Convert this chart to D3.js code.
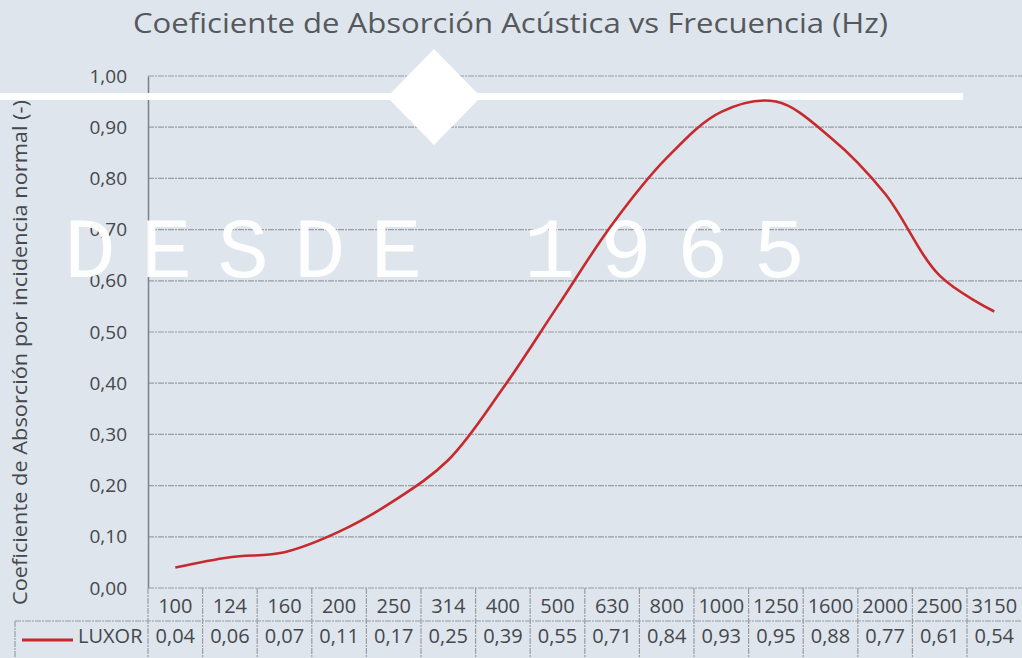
<!DOCTYPE html>
<html>
<head>
<meta charset="utf-8">
<style>
  html, body { margin: 0; padding: 0; background: #dfe5ec; }
  svg { display: block; }
</style>
</head>
<body>
<svg width="1022" height="658"></svg>
<script src="https://cdn.jsdelivr.net/npm/d3@7"></script>
<script>
  // datos
  var frequencies = ["100", "124", "160", "200", "250", "314", "400", "500", "630", "800", "1000", "1250", "1600", "2000", "2500", "3150"];
  var luxor = [0.04, 0.06, 0.07, 0.11, 0.17, 0.25, 0.39, 0.55, 0.71, 0.84, 0.93, 0.95, 0.88, 0.77, 0.61, 0.54];
  var yTicks = [0, 0.1, 0.2, 0.3, 0.4, 0.5, 0.6, 0.7, 0.8, 0.9, 1.0];
  var seriesName = "LUXOR";
  var title = "Coeficiente de Absorción Acústica vs Frecuencia (Hz)";
  var yLabel = "Coeficiente de Absorción por incidencia normal (-)";
  var watermark = "DESDE 1965";

  var svg = d3.select("svg"),
      width = +svg.attr("width"),
      height = +svg.attr("height");

  var margin = { left: 148, top: 76 };
  var plotBottom = 588;
  var font = "'Open Sans', Lato, sans-serif";
  var textColor = "#45484c";
  var gridColor = "#9a9ea4";
  var red = "#c62a2c";

  svg.append("rect").attr("width", width).attr("height", height).attr("fill", "#dfe5ec");

  var x = d3.scaleBand().domain(frequencies)
    .range([margin.left, margin.left + 54.6 * frequencies.length]);
  var y = d3.scaleLinear().domain([0, 1]).range([plotBottom, margin.top]);
  var fmt = function(d) { return d3.format(".2f")(d).replace(".", ","); };

  // título
  svg.append("text")
    .attr("x", 133).attr("y", 33)
    .attr("font-family", font)
    .attr("font-size", "28px")
    .attr("textLength", 755)
    .attr("lengthAdjust", "spacingAndGlyphs")
    .attr("fill", "#55595d")
    .text(title);

  // etiqueta eje y
  svg.append("text")
    .attr("transform", "translate(27,605) rotate(-90)")
    .attr("font-family", font)
    .attr("font-size", "19.5px")
    .attr("textLength", 505)
    .attr("lengthAdjust", "spacingAndGlyphs")
    .attr("fill", textColor)
    .text(yLabel);

  // líneas de cuadrícula
  var dotted = function(sel) {
    sel.attr("stroke", gridColor).attr("stroke-width", 1.2)
      .attr("stroke-dasharray", "6,1,2,1").attr("fill", "none");
  };
  svg.append("g").selectAll("line").data(yTicks.slice(1)).enter().append("line")
    .attr("x1", margin.left).attr("x2", width)
    .attr("y1", function(d) { return y(d); })
    .attr("y2", function(d) { return y(d); })
    .call(dotted);

  // eje y
  var yAxis = svg.append("g")
    .attr("transform", "translate(" + margin.left + ",0)")
    .call(d3.axisLeft(y).tickValues(yTicks).tickSize(0).tickPadding(21).tickFormat(fmt));
  yAxis.select(".domain").attr("stroke", "#7d8186").attr("stroke-width", 1.5);
  yAxis.selectAll("text")
    .attr("font-family", font).attr("font-size", "19px").attr("fill", textColor);

  // tabla de datos
  var table = svg.append("g");
  var row1 = plotBottom, row2 = 621, row3 = 662;
  var tableRight = margin.left + x.step() * frequencies.length;
  table.append("line").attr("x1", margin.left).attr("x2", tableRight).attr("y1", row1).attr("y2", row1).call(dotted);
  table.append("line").attr("x1", 15).attr("x2", tableRight).attr("y1", row2).attr("y2", row2).call(dotted);
  table.append("line").attr("x1", 15).attr("x2", 15).attr("y1", row2).attr("y2", row3).call(dotted);
  table.selectAll(".vline").data(frequencies).enter().append("line")
    .attr("class", "vline")
    .attr("x1", function(d) { return x(d); })
    .attr("x2", function(d) { return x(d); })
    .attr("y1", row1).attr("y2", row3)
    .call(dotted);

  table.selectAll(".cat").data(frequencies).enter().append("text")
    .attr("class", "cat")
    .attr("x", function(d) { return x(d) + x.bandwidth() / 2; })
    .attr("y", 613)
    .attr("text-anchor", "middle")
    .attr("font-family", font).attr("font-size", "20px").attr("fill", textColor)
    .text(function(d) { return d; });

  table.selectAll(".val").data(luxor).enter().append("text")
    .attr("class", "val")
    .attr("x", function(d, i) { return x(frequencies[i]) + x.bandwidth() / 2; })
    .attr("y", 643)
    .attr("text-anchor", "middle")
    .attr("font-family", font).attr("font-size", "20px").attr("fill", textColor)
    .text(fmt);

  table.append("line")
    .attr("x1", 22).attr("x2", 73).attr("y1", 640).attr("y2", 640)
    .attr("stroke", red).attr("stroke-width", 3);
  table.append("text")
    .attr("x", 78).attr("y", 643)
    .attr("font-family", font).attr("font-size", "20px").attr("fill", textColor)
    .text(seriesName);

  // marca de agua
  var wm = svg.append("g").attr("fill", "#ffffff");
  wm.append("rect").attr("x", 0).attr("y", 93).attr("width", 963).attr("height", 7);
  wm.append("path").attr("d", "M434,49 L481,97 L434,145 L387,97 Z");
  wm.append("text")
    .attr("x", 64).attr("y", 277)
    .attr("font-family", "'Liberation Mono', 'DejaVu Sans Mono', monospace")
    .attr("font-size", "86px")
    .attr("letter-spacing", "25px")
    .attr("fill-opacity", 0.95)
    .text(watermark);

  // curva
  var line = d3.line()
    .x(function(d, i) { return x(frequencies[i]) + x.bandwidth() / 2; })
    .y(function(d) { return y(d); })
    .curve(d3.curveCatmullRom.alpha(0.5));

  svg.append("path")
    .datum(luxor)
    .attr("d", line)
    .attr("fill", "none")
    .attr("stroke", red)
    .attr("stroke-width", 2.6);
</script>
</body>
</html>
